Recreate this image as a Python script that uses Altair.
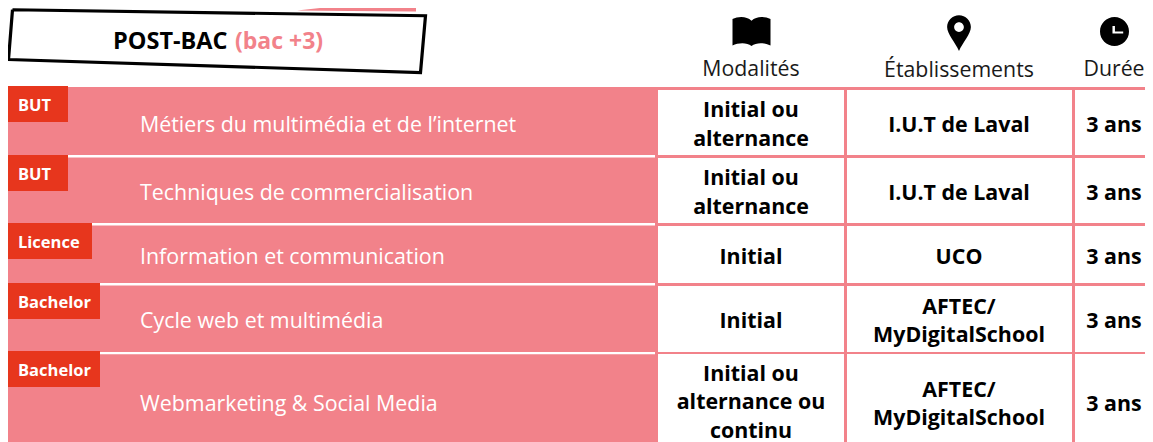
import altair as alt
import pandas as pd

# ---------- chart content ----------
diplomes = ["BUT", "BUT", "Licence", "Bachelor", "Bachelor"]
formations = [
    "Métiers du multimédia et de l’internet",
    "Techniques de commercialisation",
    "Information et communication",
    "Cycle web et multimédia",
    "Webmarketing & Social Media",
]
modalites = ["Initial ou\nalternance", "Initial ou\nalternance", "Initial", "Initial",
             "Initial ou\nalternance ou\ncontinu"]
etablissements = ["I.U.T de Laval", "I.U.T de Laval", "UCO",
                  "AFTEC/\nMyDigitalSchool", "AFTEC/\nMyDigitalSchool"]
durees = ["3 ans"] * 5
entetes = ["Modalités", "Établissements", "Durée"]
titre = ["POST-BAC", "(bac +3)"]

# ---------- layout ----------
PINK, RED = "#F2828A", "#E7361D"
FONT = "Open Sans"
RIGHT = 1145
row_top = [90, 158, 226, 286, 354]
row_bot = [155, 223, 283, 352, 442]
row_txt = [123.5, 191.5, 256, 320, 403]
badge_w = [68, 68, 92, 100, 100]
col_left = [658, 847, 1075]
col_right = [844, 1072, RIGHT]
col_mid = [751, 959, 1114]
head_y = [68, 69, 68]
LINE = 28.5

xs = alt.Scale(domain=[8, RIGHT], range=[0, RIGHT - 8])
ys = alt.Scale(domain=[0, 16, 442], range=[0, 8, 434])


def X(f="x"):
    return alt.X(f"{f}:Q", scale=xs, axis=None)


def Y(f="y"):
    return alt.Y(f"{f}:Q", scale=ys, axis=None)


def rects(df, color):
    return alt.Chart(pd.DataFrame(df)).mark_rect(color=color, opacity=1).encode(
        x=X(), x2="x2:Q", y=Y(), y2="y2:Q")


def texts(df, **kw):
    kw.setdefault("font", FONT)
    kw.setdefault("baseline", "middle")
    kw.setdefault("dy", 2)
    return alt.Chart(pd.DataFrame(df)).mark_text(**kw).encode(x=X(), y=Y(), text="t:N")


def split_lines(vals, mid):
    out = {"x": [], "y": [], "t": []}
    for v, cy in zip(vals, row_txt):
        parts = v.split("\n")
        lift = 2 if len(parts) == 3 else 0
        for i, p in enumerate(parts):
            out["x"].append(mid)
            out["y"].append(cy - lift + (i - (len(parts) - 1) / 2) * LINE)
            out["t"].append(p)
    return out


layers = []

# top pink sliver and tilted title frame
sliver = pd.DataFrame({"x": [297, 320, 414, 416], "y": [5, 0, 0, 0], "y2": [5, 5.4, 6.9, 7]})
layers.append(alt.Chart(sliver).mark_area(color=PINK, opacity=1, interpolate="linear").encode(
    x=X(), y=Y(), y2="y2:Q"))

frame = pd.DataFrame({"x": [12.5, 425.5, 420.5, 8.5, 12.5], "y": [3.5, 15.5, 72.5, 59.5, 3.5],
                      "o": [0, 1, 2, 3, 4]})
layers.append(alt.Chart(frame).mark_line(color="black", strokeWidth=3.2, strokeJoin="miter",
                                         interpolate="linear").encode(
    x=X(), y=Y(), order="o:Q"))

layers.append(texts({"x": [113], "y": [40], "t": [titre[0]]}, align="left", fontSize=23.5,
                    fontWeight="bold", color="black"))
layers.append(texts({"x": [235], "y": [40], "t": [titre[1]]}, align="left", fontSize=23,
                    fontWeight="bold", color=PINK))

# header icons
BOOK = ("M-1 -.66C-.7 -.8 -.25 -.82 0 -.56C.25 -.82 .7 -.8 1 -.66L1 .74C.7 .58 .25 .56 0 .76"
        "C-.25 .56 -.7 .58 -1 .74Z")
PIN = ("M-.66 -.33A.66 .66 0 0 1 .66 -.33C.66 .05 .2 .55 0 1C-.2 .55 -.66 .05 -.66 -.33Z"
       "M-.27 -.33A.27 .27 0 0 0 .27 -.33A.27 .27 0 0 0 -.27 -.33Z")
CLOCK = ("M-1 0A1 1 0 0 1 1 0A1 1 0 0 1 -1 0Z"
         "M-.14 -.38L-.14 .14L.6 .14L.6 0L.03 0L.03 -.38Z")
for shape, px, py, span in [(BOOK, 751.5, 31.5, 38), (PIN, 959, 33, 36), (CLOCK, 1114.5, 31.5, 29)]:
    layers.append(alt.Chart(pd.DataFrame({"x": [px], "y": [py]})).mark_point(
        shape=shape, filled=True, color="black", opacity=1, size=span ** 2).encode(x=X(), y=Y()))

layers.append(texts({"x": col_mid, "y": head_y, "t": entetes}, align="center", fontSize=21.3,
                    color="#1a1a1a"))

# table body
layers.append(rects({"x": [7], "x2": [RIGHT], "y": [87], "y2": [442]}, PINK))
cells = [(col_left[c], col_right[c], row_top[r], row_bot[r]) for r in range(5) for c in range(3)]
layers.append(rects({"x": [c[0] for c in cells], "x2": [c[1] for c in cells],
                     "y": [c[2] for c in cells], "y2": [c[3] for c in cells]}, "white"))
layers.append(rects({"x": badge_w[:4], "x2": [655] * 4, "y": row_bot[:4],
                     "y2": [b + (2.6 if b != 352 else 2.2) for b in row_bot[:4]]}, "white"))
badge_top = [86, 155, 223, 283, 351]
layers.append(rects({"x": [7] * 5, "x2": badge_w, "y": badge_top,
                     "y2": [b + 36 for b in badge_top]}, RED))
layers.append(texts({"x": [18] * 5, "y": [b + 19 for b in badge_top], "t": diplomes},
                    align="left", fontSize=16.5, fontWeight="bold", color="white", dy=1))
layers.append(texts({"x": [140] * 5, "y": row_txt, "t": formations}, align="left", fontSize=21.4,
                    color="white"))
for vals, mid in zip([modalites, etablissements, durees], col_mid):
    layers.append(texts(split_lines(vals, mid), align="center", fontSize=21.4,
                        fontWeight="bold", color="black"))

chart = alt.layer(*layers).properties(
    width=RIGHT - 8, height=434, padding=0, autosize=alt.AutoSizeParams(type="none")
).configure_view(stroke=None)

chart.save("out.html", embed_options={"renderer": "svg", "actions": False})
